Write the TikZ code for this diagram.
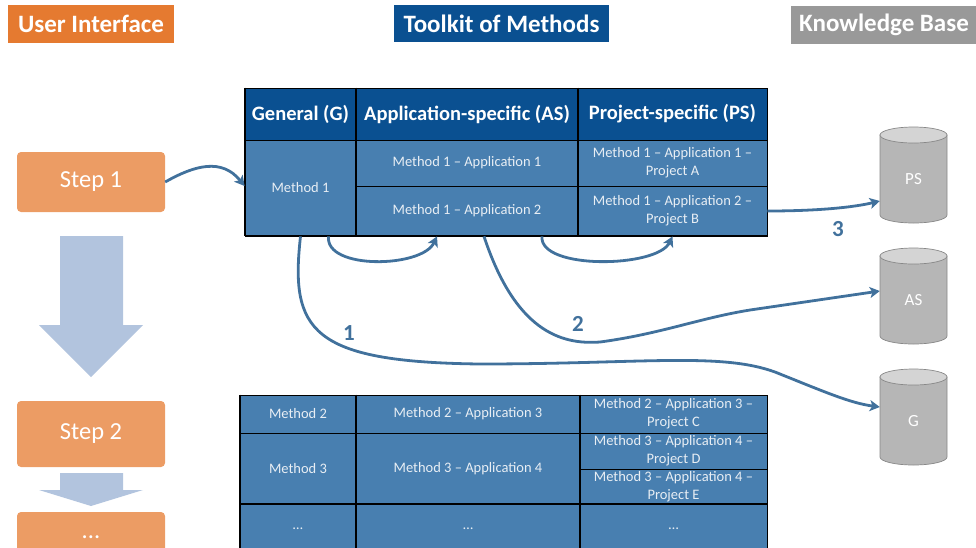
\documentclass[tikz,border=0pt]{standalone}
\usepackage{fontspec}
\setmainfont{Carlito}
\usetikzlibrary{arrows.meta}
\definecolor{hdrblue}{RGB}{10,80,145}
\definecolor{cellblue}{RGB}{72,127,176}
\definecolor{celltext}{RGB}{232,238,244}
\definecolor{flowblue}{RGB}{65,113,156}
\definecolor{uiorange}{RGB}{229,122,48}
\definecolor{steporange}{RGB}{236,156,100}
\definecolor{kbgray}{RGB}{153,153,153}
\definecolor{bigarrow}{RGB}{178,196,222}
\definecolor{cylbody}{RGB}{182,182,182}
\definecolor{cyltop}{RGB}{212,212,212}
\definecolor{cylline}{RGB}{136,136,136}
\tikzset{
  title/.style={text=white,font=\bfseries\fontsize{25}{27}\selectfont,inner sep=0pt,anchor=center},
  hdrcell/.style={fill=hdrblue,draw=black,line width=0.8pt,text=white,font=\bfseries\fontsize{20.5}{22}\selectfont,inner sep=0pt,align=center},
  bodycell/.style={fill=cellblue,draw=black,line width=0.8pt,text=celltext,font=\fontsize{14.5}{18}\selectfont,inner sep=0pt,align=center},
  stepbox/.style={fill=steporange,rounded corners=4pt,text=white,font=\fontsize{24.5}{26}\selectfont,inner sep=0pt},
  colsep/.style={draw=black,line width=2pt},
  flow/.style={draw=flowblue,line width=2.8pt,-{Stealth[length=10pt,width=11pt,inset=2.5pt]}},
  flowlabel/.style={text=flowblue,font=\bfseries\fontsize{23}{25}\selectfont},
  cylshape/.style={fill=cylbody,draw=cylline,line width=0.7pt},
  cylcap/.style={fill=cyltop,draw=cylline,line width=0.7pt},
  dbnode/.style={minimum width=67pt,minimum height=96pt,inner sep=0pt,text=white,font=\fontsize{17}{19}\selectfont}
}
\newcommand{\cellat}[7]{%
  \node[#1,minimum width={#5-#3},minimum height={#6-#4}] (#2) at ({(#3+#5)/2},{(#4+#6)/2}) {#7};}
% cylinder: name, cx, top y, text
\newcommand{\kbcyl}[4]{%
  \path[cylshape] ({#2-33.5},{#3+8}) -- ({#2-33.5},{#3+88})
    arc[start angle=180,end angle=360,x radius=33.5pt,y radius=8pt]
    -- ({#2+33.5},{#3+8}) -- cycle;
  \path[cylcap] (#2,{#3+8}) ellipse[x radius=33.5pt,y radius=8pt];
  \node[dbnode] (#1) at (#2,{#3+52}) {#4};}
\begin{document}
\begin{tikzpicture}[x=1pt,y=-1pt]
\useasboundingbox (0,0) rectangle (976,547);
% titles
\fill[uiorange] (8,5) rectangle (174,43);
\node[title] (ui) at (91,24) {User Interface};
\fill[hdrblue] (394,5) rectangle (609,42);
\node[title] (tk) at (501.5,23.5) {Toolkit of Methods};
\fill[kbgray] (791,6) rectangle (976,44);
\node[title] (kb) at (884,25) {Knowledge Base};
% table 1
\cellat{hdrcell}{hg}{245}{88}{356}{140}{General (G)}
\cellat{hdrcell}{has}{356}{88}{578}{140}{Application-specific (AS)}
\cellat{hdrcell}{hps}{578}{88}{767}{140}{Project-specific (PS)}
\cellat{bodycell}{m1}{245}{140}{356}{236}{Method 1}
\cellat{bodycell}{a1}{356}{140}{578}{186}{Method 1 -- Application 1}
\cellat{bodycell}{a2}{356}{186}{578}{236}{Method 1 -- Application 2}
\cellat{bodycell}{p1}{578}{140}{767}{186}{Method 1 -- Application 1 --\\Project A}
\cellat{bodycell}{p2}{578}{186}{767}{236}{Method 1 -- Application 2 --\\Project B}
\draw[colsep] (hg.north east) -- (m1.south east);
\draw[colsep] (has.north east) -- (a2.south east);
\draw[colsep] (hg.north west) -- (m1.south west);
\draw[colsep] (m1.south west) -- (p2.south east);
% table 2
\cellat{bodycell}{m2}{240}{395}{356}{433}{Method 2}
\cellat{bodycell}{a3}{356}{395}{580}{433}{Method 2 -- Application 3}
\cellat{bodycell}{pc}{580}{395}{767}{433}{Method 2 -- Application 3 --\\Project C}
\cellat{bodycell}{m3}{240}{433}{356}{504}{Method 3}
\cellat{bodycell}{a4}{356}{433}{580}{504}{Method 3 -- Application 4}
\cellat{bodycell}{pd}{580}{433}{767}{469}{Method 3 -- Application 4 --\\Project D}
\cellat{bodycell}{pe}{580}{469}{767}{504}{Method 3 -- Application 4 --\\Project E}
\cellat{bodycell}{d1}{240}{504}{356}{560}{\raisebox{6pt}{\dots}}
\cellat{bodycell}{d2}{356}{504}{580}{560}{\raisebox{6pt}{\dots}}
\cellat{bodycell}{d3}{580}{504}{767}{560}{\raisebox{6pt}{\dots}}
\draw[colsep] (m2.north east) -- (d1.south east);
\draw[colsep] (a3.north east) -- (d2.south east);
\draw[colsep] (m2.north west) -- (d1.south west);
\draw[colsep] (d1.north west) -- (d3.north east);
% steps
\cellat{stepbox}{s1}{17}{152}{165}{212}{Step 1}
\cellat{stepbox}{s2}{17}{401}{165}{467}{Step 2}
\cellat{stepbox}{s3}{17}{512}{165}{570}{\raisebox{8pt}{...}}
\fill[bigarrow] (60,236) -- (123,236) -- (123,325) -- (143,325) -- (91,377) -- (39,325) -- (60,325) -- cycle;
\fill[bigarrow] (60,473) -- (123,473) -- (123,490) -- (143,490) -- (91,506) -- (39,490) -- (60,490) -- cycle;
% knowledge base
\kbcyl{ps}{913.5}{127}{PS}
\kbcyl{as}{913.5}{248}{AS}
\kbcyl{g}{913.5}{369}{G}
% connectors
\draw[flow] (s1.east) .. controls (195,165) and (222,158) .. ([yshift=2pt]m1.west);
\draw[flow] ([xshift=28pt]m1.south) .. controls (325,270) and (422,268) .. ([xshift=-30pt]a2.south);
\draw[flow] ([xshift=75pt]a2.south) .. controls (539,270) and (657,268) .. (p2.south);
\draw[flow] (m1.south) .. controls (290,330) and (310,362) .. (480,364)
  .. controls (640,364) and (720,352) .. (775,372)
  .. controls (825,392) and (850,403) .. ([yshift=14pt]g.west);
\draw[flow] ([xshift=17pt]a2.south) .. controls (515,330) and (560,345) .. (600,342)
  .. controls (660,334) and (700,318) .. (750,310) -- ([yshift=9pt]as.west);
\draw[flow] (p2.east) .. controls (820,211) and (855,207) .. ([yshift=-22pt]ps.west);
\node[flowlabel] (l1) at (349,333) {1};
\node[flowlabel] (l2) at (578,324) {2};
\node[flowlabel] (l3) at (838,229) {3};
\end{tikzpicture}
\end{document}
